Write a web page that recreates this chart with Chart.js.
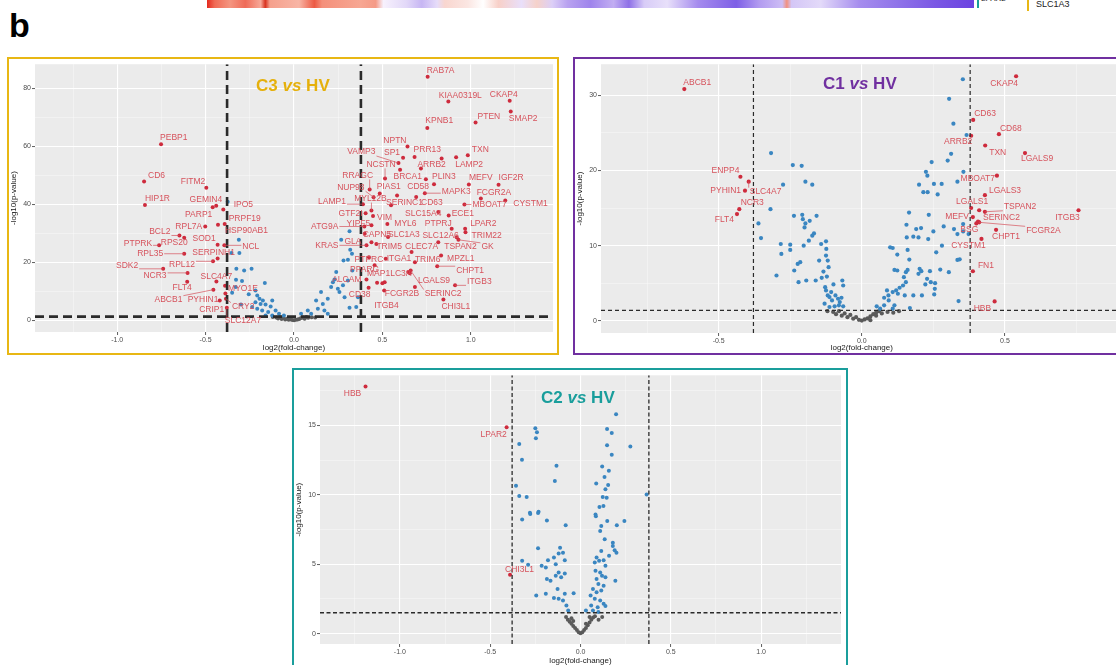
<!DOCTYPE html>
<html>
<head>
<meta charset="utf-8">
<script src="https://cdn.jsdelivr.net/npm/chart.js@4.4.1/dist/chart.umd.min.js"></script>
<style>
html, body { margin: 0; padding: 0; overflow: hidden; }
body { width: 1116px; height: 665px; position: relative; background: #fff; font-family: "Liberation Sans", Arial, sans-serif; }
.box { position: absolute; border: 2px solid; box-sizing: border-box; }
.box canvas { position: absolute; left: 0; top: 0; }
.ttl { position: absolute; font-weight: bold; font-size: 17px; line-height: 17px; white-space: nowrap; }
.strip { position: absolute; left: 207px; top: 0; width: 767px; height: 7.5px;
  background: linear-gradient(to right, #E42A1E 0%, #F06A55 1%, #F49580 3%, #EF6B58 5%, #F7A898 7%, #D8321F 7.6%, #F5A08C 8.2%, #F8B5A5 12%, #EC5A44 14%, #F4907B 15%, #F7A793 20%, #F59A86 22%, #F7F1FD 23%, #E2D8F8 26%, #C7B6F3 28%, #E6DCF9 30%, #F9D6CF 31%, #FBE6E2 34%, #FFFFFF 36%, #F8D0C8 38%, #E9DFFA 41%, #F6D2CA 43%, #DCCFF7 45%, #B9A2F0 47%, #9F84EC 50%, #C2AEF2 53%, #8E70E7 55%, #D8CCF7 57%, #E8E0FA 60%, #A58BEE 64%, #7E5FE6 69%, #B29BF0 72%, #CDBDF5 75%, #F2907E 75.6%, #D4C6F6 76.2%, #E3DAF9 80%, #A68DEE 85%, #8F73E9 90%, #7A57E4 95%, #6B43E1 100%); }
</style>
</head>
<body>
<div class="strip"></div>
<div style="position:absolute;left:977px;top:0;width:2px;height:7.5px;background:#1A9E9C"></div>
<div style="position:absolute;left:981px;top:-5px;font-size:8px;line-height:8px;color:#222">LPAR2</div>
<div style="position:absolute;left:1027px;top:0;width:2px;height:11px;background:#E8B714"></div>
<div style="position:absolute;left:1036px;top:0;font-size:9px;line-height:9px;color:#222">SLC1A3</div>
<div style="position:absolute;left:9px;top:8px;font-size:34px;line-height:34px;font-weight:bold;color:#000">b</div>

<div class="box" style="left:7px;top:57px;width:552px;height:298px;border-color:#E8B714">
  <canvas id="c3" width="548" height="294"></canvas>
</div>
<div class="box" style="left:573px;top:57px;width:562px;height:298px;border-color:#7030A0">
  <canvas id="c1" width="558" height="294"></canvas>
</div>
<div class="box" style="left:292px;top:368px;width:556px;height:302px;border-color:#1A9E9C">
  <canvas id="c2" width="552" height="296"></canvas>
</div>
<div class="ttl" style="left:256px;top:77px;color:#E5B00C">C3 <i>vs</i> HV</div>
<div class="ttl" style="left:823px;top:75px;color:#7030A0">C1 <i>vs</i> HV</div>
<div class="ttl" style="left:541px;top:389px;color:#1A9E9C">C2 <i>vs</i> HV</div>

<script>
// thresholds
const FC_CUT = 0.3785;

// ---------- C3 vs HV ----------
const c3Genes = [
  ['PEBP1', -0.752, 60.8], ['CD6', -0.848, 47.9], ['FITM2', -0.496, 45.8], ['HIP1R', -0.843, 39.8],
  ['GEMIN4', -0.44, 39.6], ['IPO5', -0.375, 40.9], ['PARP1', -0.40, 38.3], ['PRPF19', -0.392, 33.3],
  ['HSP90AB1', -0.43, 33.0], ['RPL7A', -0.502, 32.4], ['BCL2', -0.648, 29.3], ['RPS20', -0.621, 28.5],
  ['PTPRK', -0.763, 25.9], ['SOD1', -0.432, 26.1], ['NCL', -0.394, 25.9], ['RPL35', -0.621, 23.0],
  ['SERPINH1', -0.432, 21.4], ['RPL12', -0.458, 20.4], ['SDK2', -0.74, 17.8], ['NCR3', -0.602, 16.4],
  ['FLT4', -0.604, 13.3], ['SLC4A7', -0.439, 13.4], ['MYO1E', -0.39, 12.0], ['ABCB1', -0.456, 10.6],
  ['PYHIN1', -0.388, 9.3], ['CRIP1', -0.42, 6.9], ['CRY2', -0.385, 7.5], ['SLC12A7', -0.38, 4.4],
  ['RAB7A', 0.756, 84.1], ['KIAA0319L', 0.873, 75.5], ['CKAP4', 1.22, 75.8], ['SMAP2', 1.226, 72.1],
  ['PTEN', 1.027, 68.3], ['KPNB1', 0.754, 66.4], ['NPTN', 0.642, 60.0], ['TXN', 0.983, 57.0],
  ['SP1', 0.617, 56.1], ['PRR13', 0.682, 56.4], ['ARRB2', 0.835, 55.9], ['LAMP2', 0.917, 56.3],
  ['VAMP3', 0.591, 54.3], ['NCSTN', 0.515, 49.0], ['RRAGC', 0.428, 45.2], ['NUP98', 0.45, 42.5],
  ['PIAS1', 0.485, 43.8], ['CD58', 0.691, 42.6], ['BRCA1', 0.746, 48.7], ['PLIN3', 0.792, 47.0],
  ['MEFV', 0.989, 46.9], ['IGF2R', 1.157, 46.8], ['MAPK3', 0.74, 43.9], ['FCGR2A', 1.057, 42.1],
  ['CD63', 0.583, 43.1], ['SERINC1', 0.549, 39.7], ['MBOAT7', 0.964, 40.0], ['CYSTM1', 1.195, 41.4],
  ['LAMP1', 0.39, 40.1], ['MYL12B', 0.438, 37.9], ['GTF2I', 0.405, 37.0], ['VIM', 0.447, 36.0],
  ['SLC15A4', 0.816, 37.4], ['ECE1', 0.875, 36.2], ['MYL6', 0.528, 33.3], ['PTPRJ', 0.892, 31.6],
  ['LPAR2', 0.968, 31.6], ['TRIM22', 0.97, 30.4], ['ATG9A', 0.398, 32.4], ['YIPF5', 0.438, 32.8],
  ['CAPN5', 0.40, 29.9], ['SLC1A3', 0.532, 28.8], ['SLC12A6', 0.92, 28.7], ['GK', 0.93, 27.8],
  ['TSPAN2', 0.816, 27.0], ['TRIM5', 0.466, 26.4], ['CLEC7A', 0.665, 23.6], ['GLA', 0.438, 27.0],
  ['KRAS', 0.41, 25.9], ['MPZL1', 0.832, 22.4], ['PTPRC', 0.424, 21.8], ['ITGA1', 0.519, 21.3],
  ['TRIM6', 0.684, 20.1], ['CHPT1', 0.81, 18.7], ['PPARG', 0.456, 19.0], ['MAP1LC3A', 0.646, 16.7],
  ['ALCAM', 0.41, 14.1], ['LGALS9', 0.684, 11.5], ['ITGB3', 0.911, 12.1], ['CD38', 0.422, 11.3],
  ['FCGR2B', 0.513, 13.2], ['SERINC2', 0.66, 17.2], ['CHI3L1', 0.845, 7.2], ['ITGB4', 0.51, 10.3]
];
const c3Points = [
  [-0.312, 27.8], [-0.354, 23.3], [-0.309, 23.3], [-0.326, 17.8], [-0.282, 17.2], [-0.24, 17.8],
  [-0.328, 14.0], [-0.294, 13.6], [-0.165, 12.9], [-0.218, 10.3], [-0.256, 9.0], [-0.208, 8.6],
  [-0.195, 7.5], [-0.176, 6.9], [-0.218, 6.3], [-0.189, 5.7], [-0.161, 5.5], [-0.123, 6.9],
  [-0.132, 4.8], [-0.104, 3.4], [-0.146, 2.9], [-0.18, 3.4], [-0.208, 4.0], [-0.237, 4.6],
  [-0.161, 1.7], [-0.123, 1.7], [-0.085, 2.3], [-0.057, 1.7], [-0.33, 11.5], [-0.35, 9.5], [-0.30, 5.5],
  [0.314, 30.8], [0.267, 27.8], [0.318, 24.4], [0.328, 23.0], [0.305, 20.9], [0.28, 20.7],
  [0.33, 17.2], [0.229, 14.1], [0.305, 13.8], [0.277, 12.1], [0.21, 11.5], [0.153, 9.8],
  [0.257, 9.8], [0.286, 8.0], [0.191, 7.5], [0.125, 6.9], [0.163, 5.7], [0.314, 4.4],
  [0.135, 4.0], [0.078, 3.4], [0.172, 3.4], [0.04, 2.3], [0.097, 2.3], [0.191, 2.3],
  [0.352, 4.6], [0.362, 8.0], [0.239, 16.7], [0.22, 13.2], [0.248, 10.9],
  [-0.46, 39.0], [0.718, 52.4], [0.50, 12.8], [0.655, 16.3], [0.47, 13.0], [0.60, 52.0],
  [-0.1, 1.0], [-0.09, 0.7], [-0.08, 1.2], [-0.07, 0.5], [-0.06, 0.9], [-0.05, 0.3], [-0.04, 0.6],
  [-0.03, 0.2], [-0.02, 0.4], [-0.01, 0.1], [0, 0.05], [0.01, 0.2], [0.02, 0.3], [0.03, 0.5],
  [0.04, 0.8], [0.05, 1.0], [0.06, 0.6], [0.07, 1.2], [0.08, 0.9], [0.1, 1.1], [-0.12, 1.2], [0.12, 1.0]
];
const c3XMajor = [-1, -0.5, 0, 0.5, 1];
const c3XMinor = [-1.25, -0.75, -0.25, 0.25, 0.75, 1.25];
const c3YMajor = [0, 20, 40, 60, 80];
const c3YMinor = [10, 30, 50, 70];

// ---------- C1 vs HV ----------
const c1Genes = [
  ['ABCB1', -0.62, 30.8], ['ENPP4', -0.424, 19.15], ['SLC4A7', -0.395, 18.5], ['PYHIN1', -0.408, 17.3],
  ['NCR3', -0.428, 14.85], ['FLT4', -0.436, 14.2], ['CKAP4', 0.539, 32.5], ['CD63', 0.389, 26.7],
  ['CD68', 0.479, 24.8], ['ARRB2', 0.382, 24.6], ['TXN', 0.431, 23.3], ['LGALS9', 0.570, 22.3],
  ['MBOAT7', 0.472, 19.3], ['LGALS3', 0.430, 16.7], ['LGALS1', 0.382, 15.0], ['TSPAN2', 0.430, 14.5],
  ['MEFV', 0.388, 13.8], ['SERINC2', 0.406, 13.2], ['BSG', 0.400, 12.95], ['FCGR2A', 0.41, 13.1],
  ['CHPT1', 0.469, 12.1], ['ITGB3', 0.757, 14.7], ['CYSTM1', 0.418, 10.9], ['FN1', 0.388, 6.6],
  ['HBB', 0.464, 2.6]
];
const c1Points = [
  [0.41, 14.7],
  [-0.317, 22.3], [-0.241, 20.7], [-0.21, 20.6], [-0.275, 18.1], [-0.197, 18.5], [-0.173, 18.1],
  [-0.319, 14.85], [-0.361, 12.95], [-0.352, 11.01], [-0.237, 13.96], [-0.208, 14.1], [-0.206, 13.52],
  [-0.197, 12.95], [-0.182, 13.3], [-0.2, 12.42], [-0.158, 13.96], [-0.167, 11.63], [-0.173, 11.32],
  [-0.185, 10.66], [-0.203, 10.0], [-0.283, 10.22], [-0.25, 10.13], [-0.281, 8.9], [-0.25, 9.43],
  [-0.142, 10.22], [-0.125, 10.57], [-0.124, 9.56], [-0.125, 8.68], [-0.149, 8.02], [-0.119, 8.02],
  [-0.116, 7.14], [-0.134, 6.56], [-0.298, 6.04], [-0.236, 6.7], [-0.224, 7.58], [-0.215, 7.8],
  [-0.14, 5.73], [-0.161, 5.37], [-0.194, 5.37], [-0.221, 5.15], [-0.122, 5.9], [-0.099, 4.85],
  [-0.068, 5.37], [-0.065, 4.71], [-0.128, 4.49], [-0.125, 4.05], [-0.119, 3.39], [-0.113, 3.17],
  [-0.107, 3.83], [-0.104, 2.73], [-0.092, 3.39], [-0.083, 2.95], [-0.077, 2.51], [-0.071, 3.08],
  [-0.13, 2.29], [-0.113, 1.85], [-0.095, 1.94], [-0.08, 2.07], [-0.065, 1.94],
  [0.353, 32.1], [0.305, 29.5], [0.32, 26.2], [0.366, 24.7], [0.312, 22.2], [0.3, 21.3],
  [0.244, 21.1], [0.224, 19.8], [0.229, 19.3], [0.2, 18.1], [0.252, 18.2], [0.279, 18.2],
  [0.334, 18.5], [0.355, 19.8], [0.215, 17.1], [0.23, 17.1], [0.265, 16.8],
  [0.165, 14.4], [0.234, 14.1], [0.156, 12.78], [0.19, 12.2], [0.207, 12.33], [0.25, 11.89],
  [0.286, 12.56], [0.322, 12.2], [0.334, 11.54], [0.354, 12.86], [0.373, 11.54], [0.354, 11.89],
  [0.157, 11.1], [0.18, 11.19], [0.198, 11.1], [0.232, 10.88], [0.28, 10.0], [0.099, 9.78],
  [0.108, 9.69], [0.124, 8.81], [0.16, 9.43], [0.26, 9.12], [0.166, 8.15], [0.334, 8.11],
  [0.342, 8.19], [0.114, 6.78], [0.124, 6.7], [0.154, 6.48], [0.16, 6.78], [0.202, 6.92],
  [0.208, 6.61], [0.238, 6.61], [0.274, 6.83], [0.304, 6.48], [0.198, 6.26], [0.147, 5.81],
  [0.154, 5.15], [0.228, 5.59], [0.241, 5.15], [0.256, 5.02], [0.222, 4.85], [0.255, 4.27],
  [0.144, 4.71], [0.132, 4.41], [0.12, 4.05], [0.108, 3.83], [0.126, 3.61], [0.15, 3.39],
  [0.088, 4.05], [0.093, 3.39], [0.094, 2.73], [0.078, 3.08], [0.18, 3.39], [0.21, 3.39],
  [0.253, 3.52], [0.338, 2.64], [0.168, 1.72], [0.114, 2.07], [0.108, 1.63], [0.078, 2.07],
  [0.064, 1.63], [0.052, 1.94],
  [-0.1, 1.2], [-0.09, 0.9], [-0.08, 1.3], [-0.07, 0.7], [-0.06, 1.0], [-0.05, 0.5], [-0.04, 0.8],
  [-0.03, 0.3], [-0.02, 0.5], [-0.01, 0.15], [0, 0.05], [0.01, 0.2], [0.02, 0.35], [0.03, 0.6],
  [0.04, 0.9], [0.05, 1.1], [0.05, 0.7], [0.06, 1.3], [0.07, 1.0], [0.09, 1.2], [0.11, 1.1],
  [0.13, 1.3], [-0.12, 1.3], [0.03, 0.1]
];
const c1XMajor = [-0.5, 0, 0.5];
const c1XMinor = [-0.75, -0.25, 0.25, 0.75];
const c1YMajor = [0, 10, 20, 30];
const c1YMinor = [5, 15, 25];

// ---------- C2 vs HV ----------
const c2Genes = [['HBB', -1.19, 17.8], ['LPAR2', -0.409, 14.86], ['CHI3L1', -0.39, 4.24]];
const c2Points = [
  [-0.25, 14.78], [-0.241, 14.49], [-0.247, 14.06], [-0.339, 13.65], [-0.324, 12.51], [-0.133, 12.08],
  [-0.142, 10.99], [-0.357, 10.65], [-0.339, 9.9], [-0.298, 9.83], [-0.28, 8.7], [-0.232, 8.77],
  [0.197, 15.8], [0.147, 14.73], [0.173, 14.44], [0.147, 13.57], [0.276, 13.48], [0.173, 12.87],
  [0.12, 12.03], [0.157, 11.72], [0.133, 11.28], [0.087, 10.8], [0.153, 10.7], [0.138, 10.39],
  [0.123, 9.83], [0.145, 9.78], [0.366, 10.02], [0.105, 9.11], [0.127, 9.18], [0.083, 8.57],
  [-0.323, 8.21], [-0.278, 8.62], [-0.235, 8.69], [-0.186, 8.14], [-0.082, 7.81], [-0.323, 5.24],
  [-0.29, 4.95], [-0.235, 6.14], [-0.192, 4.76], [-0.18, 5.29], [-0.147, 5.48], [-0.121, 5.76],
  [-0.113, 6.19], [-0.097, 5.83], [-0.087, 5.29], [-0.186, 3.93], [-0.166, 3.81], [-0.137, 4.17],
  [-0.121, 4.4], [-0.107, 4.05], [-0.087, 4.33], [-0.127, 3.21], [-0.147, 2.57], [-0.121, 2.5],
  [-0.087, 2.86], [-0.097, 2.38], [-0.038, 2.9], [-0.192, 2.86], [-0.245, 2.74], [-0.078, 2.02],
  [-0.068, 1.67], [-0.215, 4.88], [-0.137, 5.0],
  [0.085, 8.45], [0.148, 8.1], [0.115, 7.74], [0.109, 7.38], [0.201, 7.81], [0.243, 8.1],
  [0.134, 6.79], [0.179, 6.55], [0.179, 6.31], [0.189, 6.0], [0.199, 5.83], [0.158, 5.6],
  [0.115, 5.95], [0.089, 5.48], [0.079, 5.12], [0.103, 5.24], [0.128, 5.29], [0.138, 4.88],
  [0.083, 4.52], [0.109, 4.4], [0.119, 4.17], [0.138, 4.05], [0.089, 3.93], [0.193, 3.81],
  [0.099, 3.57], [0.128, 3.45], [0.069, 3.21], [0.089, 2.98], [0.115, 3.1], [0.056, 2.74],
  [0.079, 2.5], [0.109, 2.38], [0.128, 2.14], [0.059, 2.02], [0.095, 1.9], [0.03, 1.67],
  [0.069, 1.67], [0.099, 1.55], [0.138, 1.98],
  [-0.08, 1.2], [-0.07, 1.0], [-0.06, 0.85], [-0.05, 0.7], [-0.04, 0.55], [-0.03, 0.4], [-0.02, 0.25],
  [-0.01, 0.1], [0, 0.02], [0.01, 0.1], [0.02, 0.25], [0.03, 0.4], [0.04, 0.6], [0.05, 0.8],
  [0.06, 1.0], [0.07, 1.15], [0.08, 1.25], [-0.05, 1.1], [0.05, 1.2], [0.1, 1.0], [-0.04, 0.9],
  [0.03, 0.7], [0.12, 1.2]
];
const c2XMajor = [-1, -0.5, 0, 0.5, 1];
const c2XMinor = [-1.25, -0.75, -0.25, 0.25, 0.75, 1.25];
const c2YMajor = [0, 5, 10, 15];
const c2YMinor = [2.5, 7.5, 12.5, 17.5];

// label placement (pixel offset from point, anchor, connector)
const c3Nudge = {
  PEBP1: [-1, -7, 'l'], CD6: [4, -6, 'l'], FITM2: [-1, -6, 'r'], HIP1R: [0, -6, 'l'], GEMIN4: [6, -6, 'r'],
  IPO5: [6, 3, 'l'], PARP1: [-11, 5, 'r'], PRPF19: [4, -5, 'l'], HSP90AB1: [7, 6, 'l'], RPL7A: [-3, 0, 'r'],
  BCL2: [-9, -4, 'r', 1], RPS20: [-10, 5, 'c'], PTPRK: [-7, -2, 'r', 1], SOD1: [-2, -6, 'r'], NCL: [18, 1, 'l', 1],
  RPL35: [-21, 0, 'r', 1], SERPINH1: [-4, -6, 'c'], RPL12: [-18, 3, 'r', 1], SDK2: [-25, -3, 'r', 1],
  NCR3: [-21, 3, 'r', 1], FLT4: [-5, 6, 'c'], SLC4A7: [0, -5, 'c'], MYO1E: [3, 3, 'l'], ABCB1: [-31, 10, 'r', 1],
  PYHIN1: [-7, 6, 'r'], CRIP1: [-8, 9, 'c'], CRY2: [6, 8, 'l', 1], SLC12A7: [-2, 13, 'l', 1],
  RAB7A: [-1, -6, 'l'], KIAA0319L: [12, -6, 'c'], CKAP4: [-6, -6, 'c'], SMAP2: [-2, 7, 'l'], PTEN: [2, -6, 'l'],
  KPNB1: [-2, -7, 'l'], NPTN: [-1, -6, 'r'], TXN: [4, -6, 'l'], SP1: [-3, -5, 'r'], PRR13: [-1, -7, 'l'],
  ARRB2: [-10, 6, 'c'], LAMP2: [13, 7, 'c'], VAMP3: [-23, -11, 'r', 1], NCSTN: [-4, -14, 'c', 1],
  RRAGC: [-12, -14, 'c', 1], NUP98: [-9, -10, 'r', 1], PIAS1: [9, -7, 'c'], CD58: [2, -10, 'c'],
  BRCA1: [-4, -3, 'r'], PLIN3: [-2, -8, 'l'], MEFV: [12, -7, 'c'], IGF2R: [0, -7, 'l'], MAPK3: [17, -2, 'l', 1],
  FCGR2A: [13, -6, 'c'], CD63: [24, 7, 'l'], SERINC1: [-5, -3, 'l'], MBOAT7: [8, 0, 'l', 1], CYSTM1: [8, 3, 'l'],
  LAMP1: [-17, -3, 'r', 1], MYL12B: [-1, -12, 'c', 1], GTF2I: [-3, 0, 'r'], VIM: [4, 2, 'l'], SLC15A4: [-15, 2, 'c'],
  ECE1: [3, -2, 'l'], MYL6: [7, 0, 'l'], PTPRJ: [0, -5, 'r'], LPAR2: [5, -5, 'l'], TRIM22: [6, 3, 'l'],
  ATG9A: [-26, 0, 'r', 1], YIPF5: [-13, -2, 'c'], CAPN5: [-2, 1, 'l'], SLC1A3: [0, -2, 'l'], SLC12A6: [-16, -2, 'c'],
  GK: [23, 7, 'l', 1], TSPAN2: [6, 5, 'l'], TRIM5: [0, 3, 'l'], CLEC7A: [10, -5, 'c'], GLA: [-10, 0, 'r'],
  KRAS: [-28, 0, 'r', 1], MPZL1: [6, 3, 'l'], PTPRC: [0, 2, 'c'], ITGA1: [1, 0, 'l'], TRIM6: [0, -2, 'l'],
  CHPT1: [19, 4, 'l', 1], PPARG: [-10, 4, 'c'], MAP1LC3A: [-19, 2, 'c'], ALCAM: [-5, 0, 'r'], LGALS9: [3, -6, 'l'],
  ITGB3: [12, -4, 'l', 1], CD38: [-9, 7, 'c'], FCGR2B: [0, 12, 'l'], SERINC2: [14, 23, 'l', 1], CHI3L1: [-2, 7, 'l'],
  ITGB4: [-10, 15, 'l']
};
const c1Nudge = {
  ABCB1: [-1, -6, 'l'], ENPP4: [-1, -6, 'r'], SLC4A7: [1, 10, 'l', 1], PYHIN1: [-4, 0, 'r'], NCR3: [13, -6, 'c'],
  FLT4: [-3, 6, 'r'], CKAP4: [-12, 7, 'c'], CD63: [1, -6, 'l'], CD68: [1, -6, 'l'], ARRB2: [-13, 6, 'c'],
  TXN: [4, 7, 'l'], LGALS9: [-4, 6, 'l'], MBOAT7: [-2, 3, 'r'], LGALS3: [4, -5, 'l'], LGALS1: [1, -6, 'c'],
  TSPAN2: [19, -5, 'l', 1], MEFV: [-4, 0, 'r'], SERINC2: [5, -4, 'l'], BSG: [-7, 6, 'c'], FCGR2A: [47, 8, 'l', 1],
  CHPT1: [-4, 7, 'l'], ITGB3: [-11, 7, 'c'], CYSTM1: [-13, 7, 'c'], FN1: [5, -6, 'l'], HBB: [-21, 7, 'l']
};
const c2Nudge = { HBB: [-13, 7, 'c'], LPAR2: [-13, 7, 'c'], CHI3L1: [-5, -5, 'l'] };

const FONT = '"Liberation Sans", Arial, sans-serif';
const RED = '#CE2B3D', BLUE = '#3A86C1', GREY = '#5A5A5A', LABEL = '#D6525C';

function tone(x, y, pCut) {
  if (y <= pCut) return GREY;
  return Math.abs(x) >= FC_CUT ? RED : BLUE;
}

const panelBg = {
  id: 'panelBg',
  beforeDraw(chart) {
    const a = chart.chartArea, c = chart.ctx;
    c.save();
    c.fillStyle = '#EBEBEB';
    c.fillRect(a.left, a.top, a.right - a.left, a.bottom - a.top);
    c.restore();
  }
};

const geneLabels = {
  id: 'geneLabels',
  afterDatasetsDraw(chart) {
    const idx = chart.data.datasets.findIndex(d => d.isGenes);
    if (idx < 0) return;
    const ds = chart.data.datasets[idx];
    const meta = chart.getDatasetMeta(idx);
    const c = chart.ctx;
    c.save();
    c.font = '8.5px ' + FONT;
    c.fillStyle = LABEL;
    c.strokeStyle = LABEL;
    c.lineWidth = 0.7;
    c.textBaseline = 'middle';
    c.textAlign = 'left';
    ds.names.forEach((name, i) => {
      const p = meta.data[i];
      const n = ds.nudge[name] || [3, -6, 'l'];
      const w = c.measureText(name).width;
      const ty = p.y + n[1];
      let left = p.x + n[0];
      if (n[2] === 'r') left -= w;
      else if (n[2] === 'c') left -= w / 2;
      if (n[3]) {
        const ex = Math.min(Math.max(p.x, left - 1), left + w + 1);
        const ey = Math.min(Math.max(p.y, ty - 4), ty + 4);
        c.beginPath();
        c.moveTo(p.x, p.y);
        c.lineTo(ex, ey);
        c.stroke();
      }
      c.fillText(name, left, ty);
    });
    c.restore();
  }
};

function axis(majors, minors, fmt, min, max, title, fit) {
  return {
    type: 'linear',
    min: min,
    max: max,
    afterBuildTicks: s => {
      s.ticks = majors.map(v => ({ value: v, major: true }))
        .concat(minors.map(v => ({ value: v, major: false })))
        .sort((a, b) => a.value - b.value);
    },
    afterFit: fit,
    border: { display: false },
    ticks: {
      autoSkip: false, maxRotation: 0, padding: 1, color: '#4D4D4D',
      font: { size: 7, family: FONT },
      callback: (v, i, t) => (t[i] && t[i].major) ? fmt(v) : ''
    },
    grid: {
      color: c => (c.tick && c.tick.major) ? '#FFFFFF' : 'rgba(255,255,255,0.6)',
      lineWidth: c => (c.tick && c.tick.major) ? 1.1 : 0.6,
      tickLength: 3,
      tickWidth: 0.8,
      tickColor: c => (c.tick && c.tick.major) ? '#333333' : 'rgba(0,0,0,0)'
    },
    title: { display: true, text: title, color: '#1A1A1A', font: { size: 8, family: FONT }, padding: 0 }
  };
}

function volcano(id, cfg) {
  const genePts = cfg.genes.map(g => ({ x: g[1], y: g[2] }));
  const other = cfg.points.map(p => ({ x: p[0], y: p[1] }));
  const group = col => other.filter(p => tone(p.x, p.y, cfg.pCut) === col);
  const dashLine = (data) => ({
    type: 'line', data: data, borderColor: cfg.dash.color, borderWidth: cfg.dash.width,
    borderDash: cfg.dash.pattern, pointRadius: 0, fill: false, tension: 0, order: 0
  });
  const dot = (data, col, order) => ({
    data: data, backgroundColor: col, borderWidth: 0, pointRadius: cfg.r, order: order
  });
  const geneSet = dot(genePts, genePts.map(p => tone(p.x, p.y, cfg.pCut)), 1);
  geneSet.isGenes = true;
  geneSet.names = cfg.genes.map(g => g[0]);
  geneSet.nudge = cfg.nudge;

  new Chart(document.getElementById(id), {
    type: 'scatter',
    data: {
      datasets: [
        dashLine([{ x: -FC_CUT, y: cfg.yMin }, { x: -FC_CUT, y: cfg.yMax }]),
        dashLine([{ x: FC_CUT, y: cfg.yMin }, { x: FC_CUT, y: cfg.yMax }]),
        dashLine([{ x: cfg.xMin, y: cfg.pCut }, { x: cfg.xMax, y: cfg.pCut }]),
        geneSet,
        dot(group(RED), RED, 2),
        dot(group(BLUE), BLUE, 3),
        dot(group(GREY), GREY, 4)
      ]
    },
    options: {
      responsive: false,
      animation: false,
      events: [],
      layout: { autoPadding: false, padding: cfg.pad },
      plugins: { legend: { display: false }, tooltip: { enabled: false } },
      scales: {
        x: axis(cfg.xMajor, cfg.xMinor, v => v.toFixed(1), cfg.xMin, cfg.xMax, 'log2(fold-change)', s => { s.height = cfg.xH; }),
        y: axis(cfg.yMajor, cfg.yMinor, v => String(v), cfg.yMin, cfg.yMax, '-log10(p-value)', s => { s.width = 26; })
      }
    },
    plugins: [panelBg, geneLabels]
  });
}

volcano('c3', {
  genes: c3Genes, points: c3Points, nudge: c3Nudge, pCut: 1.3, r: 2,
  xMin: -1.465, xMax: 1.465, yMin: -4.0, yMax: 88.4,
  xMajor: c3XMajor, xMinor: c3XMinor, yMajor: c3YMajor, yMinor: c3YMinor,
  pad: { left: 0, top: 4, right: 4, bottom: 0 }, xH: 21,
  dash: { color: '#2A2A2A', width: 2.6, pattern: [9, 5] }
});
volcano('c1', {
  genes: c1Genes, points: c1Points, nudge: c1Nudge, pCut: 1.4, r: 2.1,
  xMin: -0.911, xMax: 0.911, yMin: -1.6, yMax: 34.1,
  xMajor: c1XMajor, xMinor: c1XMinor, yMajor: c1YMajor, yMinor: c1YMinor,
  pad: { left: 0, top: 4, right: 10.4, bottom: 0 }, xH: 20,
  dash: { color: '#2A2A2A', width: 1.2, pattern: [4, 3] }
});
volcano('c2', {
  genes: c2Genes, points: c2Points, nudge: c2Nudge, pCut: 1.5, r: 2,
  xMin: -1.442, xMax: 1.442, yMin: -0.75, yMax: 18.6,
  xMajor: c2XMajor, xMinor: c2XMinor, yMajor: c2YMajor, yMinor: c2YMinor,
  pad: { left: 0, top: 5.3, right: 5, bottom: 0 }, xH: 22,
  dash: { color: '#2A2A2A', width: 1.3, pattern: [4, 2.5] }
});
</script>
</body>
</html>
